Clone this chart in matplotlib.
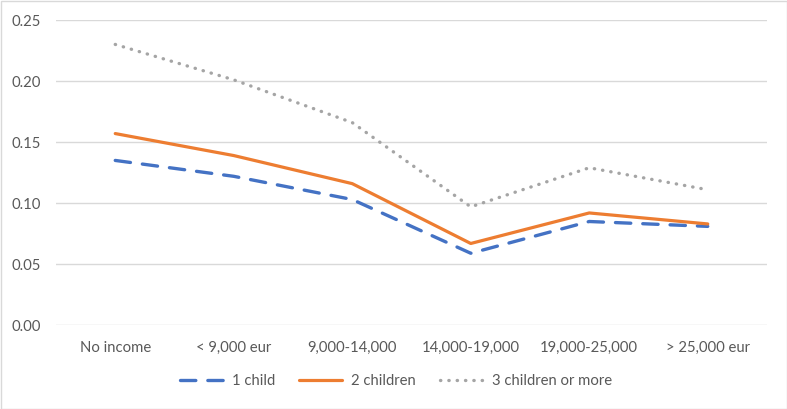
import matplotlib
matplotlib.use("Agg")
import matplotlib.pyplot as plt
from matplotlib.patches import Rectangle

categories = ["No income", "< 9,000 eur", "9,000-14,000", "14,000-19,000", "19,000-25,000", "> 25,000 eur"]
one_child = [0.135, 0.122, 0.103, 0.059, 0.085, 0.081]
two_children = [0.157, 0.139, 0.116, 0.067, 0.092, 0.083]
three_plus = [0.230, 0.201, 0.166, 0.097, 0.129, 0.111]
yticks = [0.00, 0.05, 0.10, 0.15, 0.20, 0.25]
series_names = ["1 child", "2 children", "3 children or more"]

plt.rcParams['font.family'] = ['Lato', 'DejaVu Sans']
txt = '#595959'
fs = 10.7
fig = plt.figure(figsize=(7.87, 4.09), dpi=100)
ax = fig.add_axes([56/787, 1-325.3/409, (767-56)/787, (325.3-20)/409])

x = list(range(len(categories)))
ax.plot(x, one_child, color='#4472C4', lw=2.4, linestyle=(0, (4.6, 3.6)), dash_capstyle='round', label=series_names[0], zorder=3)
ax.plot(x, two_children, color='#ED7D31', lw=2.3, solid_capstyle='round', label=series_names[1], zorder=4)
ax.plot(x, three_plus, color='#A5A5A5', lw=2.4, linestyle=(0, (0.1, 2.4)), dash_capstyle='round', label=series_names[2], zorder=2)

ax.set_xlim(-0.5, len(categories)-0.5)
ax.set_ylim(0, 0.25)
ax.set_yticks(yticks)
ax.set_yticklabels([f"{v:.2f}" for v in yticks])
ax.set_xticks(x)
ax.set_xticklabels(categories)
ax.grid(axis='y', color='#D9D9D9', lw=1)
ax.set_axisbelow(True)
for s in ax.spines.values():
    s.set_visible(False)
ax.tick_params(length=0, labelsize=fs, colors=txt)
ax.tick_params(axis='y', pad=11)
ax.tick_params(axis='x', pad=11)

leg = fig.legend(loc='center', bbox_to_anchor=(396/787, 1-381/409), ncol=3, frameon=False,
                 fontsize=fs, handlelength=2.9, handletextpad=0.6, columnspacing=1.6)
for t in leg.get_texts():
    t.set_color(txt)

fig.patches.append(Rectangle((0.5/787, 0.5/409), 1-1/787, 1-1/409, transform=fig.transFigure,
                             fill=False, edgecolor='#D9D9D9', lw=1))
fig.savefig("out.png", dpi=100, facecolor='white')
